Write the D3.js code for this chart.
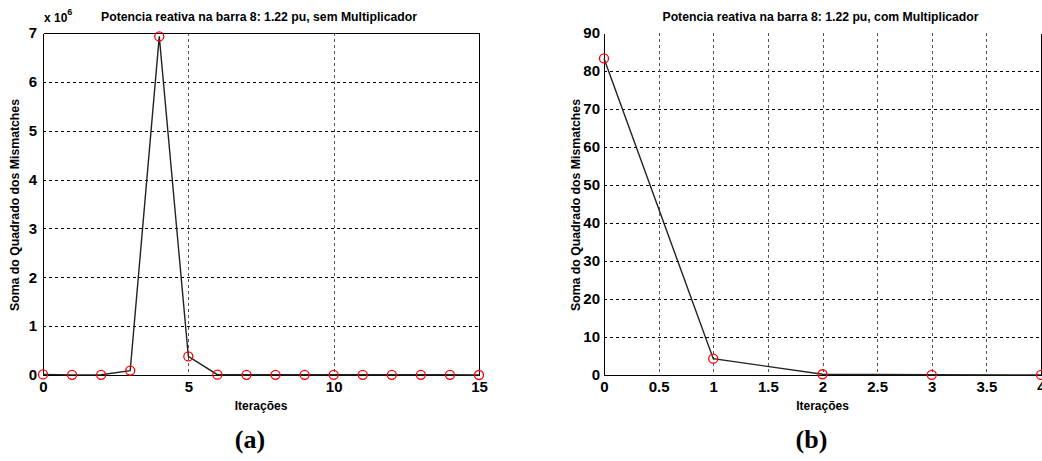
<!DOCTYPE html>
<html>
<head>
<meta charset="utf-8">
<script src="https://cdn.jsdelivr.net/npm/d3@7"></script>
<style>
  body { margin: 0; background: #fff; }
  svg text { font-family: "Liberation Sans", Arial, sans-serif; }
</style>
</head>
<body>
<div id="viz"></div>
<script>
// (a) sem multiplicador, valores em x 10^6
var iterA = [0, 1, 2, 3, 4, 5, 6, 7, 8, 9, 10, 11, 12, 13, 14, 15];
var somaA = [0.012, 0.003, 0.004, 0.09, 6.93, 0.38, 0.006, 0.004, 0.004, 0.004, 0.004, 0.004, 0.004, 0.004, 0.004, 0.0];
var xTicksA = [0, 5, 10, 15];
var yTicksA = [0, 1, 2, 3, 4, 5, 6, 7];

// (b) com multiplicador
var iterB = [0, 1, 2, 3, 4];
var somaB = [83.3, 4.3, 0.2, 0.05, 0.02];
var xTicksB = [0, 0.5, 1, 1.5, 2, 2.5, 3, 3.5, 4];
var yTicksB = [0, 10, 20, 30, 40, 50, 60, 70, 80, 90];

var titles = ["Potencia reativa na barra 8: 1.22 pu, sem Multiplicador",
              "Potencia reativa na barra 8: 1.22 pu, com Multiplicador"];
var xLabel = "Iterações";
var yLabel = "Soma do Quadrado dos Mismatches";
var captions = ["(a)", "(b)"];

var svg = d3.select("#viz").append("svg")
    .attr("width", 1042)
    .attr("height", 461);

var panel = function(spec){
    var g = svg.append("g");
    var x = d3.scaleLinear().domain(spec.xdom).range([spec.left, spec.right]);
    var y = d3.scaleLinear().domain(spec.ydom).range([spec.bottom, spec.top]);

    // grid
    g.selectAll("line.gy")
        .data(spec.yticks.slice(1, -1))
        .enter().append("line")
        .attr("x1", spec.left).attr("x2", spec.right)
        .attr("y1", function(d){ return Math.round(y(d)) + 0.5; })
        .attr("y2", function(d){ return Math.round(y(d)) + 0.5; })
        .style("stroke", "#000")
        .style("stroke-dasharray", "3,3")
        .style("shape-rendering", "crispEdges");
    g.selectAll("line.gx")
        .data(spec.xticks.slice(1, -1))
        .enter().append("line")
        .attr("y1", spec.top).attr("y2", spec.bottom)
        .attr("x1", function(d){ return Math.round(x(d)) + 0.5; })
        .attr("x2", function(d){ return Math.round(x(d)) + 0.5; })
        .style("stroke", "#555")
        .style("stroke-dasharray", "3,3")
        .style("shape-rendering", "crispEdges");

    // frame
    var frame = [[spec.left, spec.top, spec.left, spec.bottom],
                 [spec.left, spec.bottom, spec.right, spec.bottom],
                 [spec.right, spec.top, spec.right, spec.bottom]];
    if (spec.topline) frame.push([spec.left, spec.top, spec.right, spec.top]);
    frame.forEach(function(f){
        g.append("line")
            .attr("x1", f[0] + 0.5).attr("y1", f[1] + 0.5)
            .attr("x2", f[2] + 0.5).attr("y2", f[3] + 0.5)
            .style("stroke", "#000")
            .style("shape-rendering", "crispEdges");
    });

    // axes
    var xa = g.append("g")
        .attr("transform", "translate(0," + spec.bottom + ")")
        .call(d3.axisBottom(x).tickValues(spec.xticks).tickSize(0).tickPadding(6)
              .tickFormat(d3.format("")));
    var ya = g.append("g")
        .attr("transform", "translate(" + spec.left + ",0)")
        .call(d3.axisLeft(y).tickValues(spec.yticks).tickSize(0).tickPadding(spec.ypad)
              .tickFormat(d3.format("")));
    [xa, ya].forEach(function(a){
        a.select(".domain").remove();
        a.selectAll("text")
            .style("font-size", "15px")
            .style("font-weight", "bold")
            .style("fill", "#000");
    });

    // data
    var line = d3.line()
        .x(function(d){ return x(d[0]); })
        .y(function(d){ return y(d[1]); });
    var pts = d3.zip(spec.xs, spec.ys);
    g.append("path")
        .datum(pts)
        .attr("d", line)
        .style("fill", "none")
        .style("stroke", "#222")
        .style("stroke-width", 1.4);
    g.selectAll("circle")
        .data(pts)
        .enter().append("circle")
        .attr("cx", function(d){ return x(d[0]); })
        .attr("cy", function(d){ return y(d[1]); })
        .attr("r", 4.5)
        .style("fill", "none")
        .style("stroke", "#f00")
        .style("stroke-width", 1.3);

    // texts
    var cx = (spec.left + spec.right) / 2;
    g.append("text")
        .attr("x", cx - 2).attr("y", 21)
        .attr("text-anchor", "middle")
        .attr("textLength", 316)
        .attr("lengthAdjust", "spacingAndGlyphs")
        .style("font-size", "12px")
        .style("font-weight", "bold")
        .text(spec.title);
    g.append("text")
        .attr("x", cx).attr("y", 410)
        .attr("text-anchor", "middle")
        .style("font-size", "12px")
        .style("font-weight", "bold")
        .text(xLabel);
    g.append("text")
        .attr("transform", "translate(" + (spec.left - 24) + "," + 205 + ") rotate(-90)")
        .attr("text-anchor", "middle")
        .attr("textLength", 212)
        .attr("lengthAdjust", "spacingAndGlyphs")
        .style("font-size", "13px")
        .style("font-weight", "bold")
        .text(yLabel);
    g.append("text")
        .attr("x", cx - 11).attr("y", 448)
        .attr("text-anchor", "middle")
        .style("font-family", "'Liberation Serif', 'Times New Roman', serif")
        .style("font-size", "26px")
        .style("font-weight", "bold")
        .text(spec.caption);
    return g;
};

var ga = panel({
    left: 43, right: 479, top: 33, bottom: 375,
    xdom: [0, 15], ydom: [0, 7],
    xticks: xTicksA, yticks: yTicksA, ypad: 6,
    xs: iterA, ys: somaA, topline: true,
    title: titles[0], caption: captions[0]
});
// expoente do eixo y
var ex = ga.append("text").attr("x", 44).attr("y", 22)
    .style("font-size", "12px").style("font-weight", "bold");
ex.append("tspan").text("x 10");
ex.append("tspan").attr("dy", -7).style("font-size", "9px").text("6");

panel({
    left: 604, right: 1041, top: 33, bottom: 375,
    xdom: [0, 4], ydom: [0, 90],
    xticks: xTicksB, yticks: yTicksB, ypad: 4,
    xs: iterB, ys: somaB, topline: false,
    title: titles[1], caption: captions[1]
});
</script>
</body>
</html>
